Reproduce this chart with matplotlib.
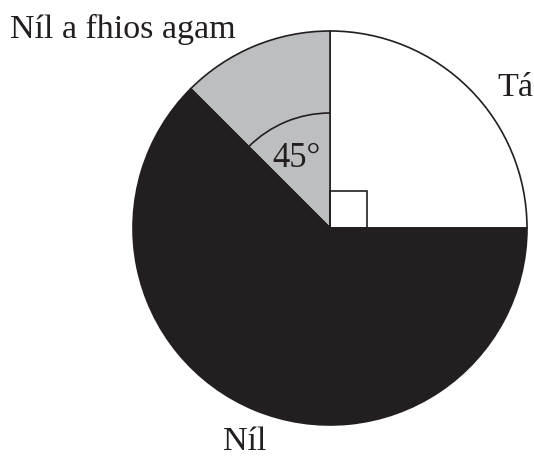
import matplotlib.pyplot as plt
from matplotlib.patches import Arc, Rectangle

plt.rcParams["font.family"] = ["Liberation Serif", "DejaVu Serif"]

# Slices in degrees
labels = ["Tá", "Níl a fhios agam", "Níl"]
degrees = [90, 45, 225]
colors = ["#ffffff", "#bcbec0", "#231f20"]

W, H = 534, 457
CX, CY, R = 330, H - 228, 197

fig = plt.figure(figsize=(W / 100, H / 100), dpi=100)
ax = fig.add_axes([0, 0, 1, 1])

ax.pie(degrees, colors=colors, startangle=0, counterclock=True,
       center=(CX, CY), radius=R, frame=True,
       wedgeprops=dict(edgecolor="#231f20", linewidth=1.2))
ax.set_xlim(0, W)
ax.set_ylim(0, H)
ax.set_aspect("equal")
ax.axis("off")

# angle marker for the 45 degree slice
ax.add_patch(Arc((CX, CY), 2 * 115, 2 * 115, theta1=90, theta2=135,
                 color="#231f20", linewidth=1.2))
ax.add_patch(Rectangle((CX, CY), 37, 37, fill=False,
                       edgecolor="#231f20", linewidth=1.2))
ax.text(297, H - 167, "45°", fontsize=25, ha="center", va="baseline", color="#231f20")

ax.text(10, H - 38, labels[1], fontsize=24.5, ha="left", va="baseline", color="#231f20")
ax.text(497, H - 96, labels[0], fontsize=24.5, ha="left", va="baseline", color="#231f20")
ax.text(245, H - 450, labels[2], fontsize=24.5, ha="center", va="baseline", color="#231f20")

fig.savefig("out.png", dpi=100)
